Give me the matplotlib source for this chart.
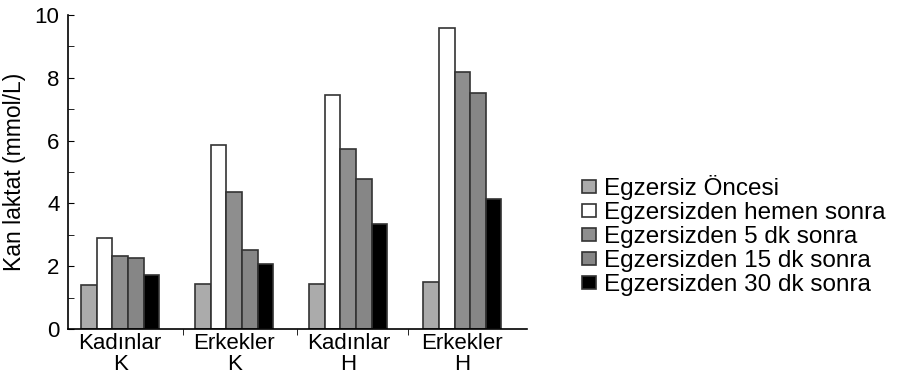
import matplotlib
matplotlib.use("Agg")
import matplotlib.pyplot as plt
import numpy as np
from matplotlib.ticker import MultipleLocator

plt.rcParams['font.family'] = ['Liberation Sans', 'DejaVu Sans']

groups = ["Kadınlar\nK", "Erkekler\nK", "Kadınlar\nH", "Erkekler\nH"]
series = ["Egzersiz Öncesi", "Egzersizden hemen sonra", "Egzersizden 5 dk sonra",
          "Egzersizden 15 dk sonra", "Egzersizden 30 dk sonra"]
before = [1.40, 1.44, 1.45, 1.49]
immediately = [2.91, 5.87, 7.45, 9.58]
after5 = [2.32, 4.38, 5.73, 8.17]
after15 = [2.25, 2.53, 4.77, 7.51]
after30 = [1.71, 2.07, 3.34, 4.15]
values = [before, immediately, after5, after15, after30]
colors = ["#ababab", "#ffffff", "#8e8e8e", "#868686", "#000000"]

fig = plt.figure(figsize=(9.03, 3.74), dpi=100)
ax = fig.add_axes([0.075, 0.12, 0.509, 0.84])

x = np.arange(len(groups))
w = 0.137
for i, (vals, c) in enumerate(zip(values, colors)):
    ax.bar(x + (i - 2) * w, vals, w, color=c, edgecolor="#333333", linewidth=1.2, label=series[i])

ax.set_xlim(-0.46, 3.57)
ax.set_ylim(0, 10)
ax.yaxis.set_major_locator(MultipleLocator(2))
ax.yaxis.set_minor_locator(MultipleLocator(1))
ax.tick_params(axis='y', which='both', direction='in', labelsize=16, length=4, pad=6)
ax.set_xticks(x)
ax.set_xticklabels(groups, fontsize=16, linespacing=1.0)
ax.tick_params(axis='x', which='major', length=0, pad=3)
ax.set_xticks([0.55, 1.55, 2.52], minor=True)
ax.tick_params(axis='x', which='minor', direction='out', length=4)
ax.spines['top'].set_visible(False)
ax.spines['right'].set_visible(False)
ax.spines['left'].set_linewidth(1.2)
ax.spines['bottom'].set_linewidth(1.2)
ax.set_ylabel("Kan laktat (mmol/L)", fontsize=16.5, labelpad=6)

leg = fig.legend(loc='center left', bbox_to_anchor=(0.634, 0.37), frameon=False,
                 fontsize=17.5, labelspacing=0.08, handlelength=0.55, handleheight=0.45,
                 handletextpad=0.35, borderaxespad=0)

fig.savefig("out.png", dpi=100)
